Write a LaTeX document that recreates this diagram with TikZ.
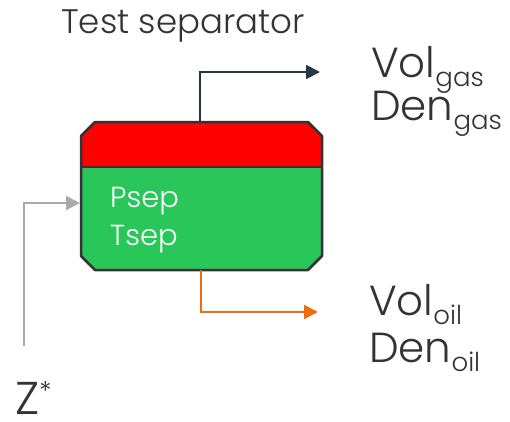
\documentclass[tikz,border=0pt]{standalone}
\usepackage{fontspec}
\setmainfont{Poppins}[UprightFont=* Light]
\usepackage{tikz}
\usetikzlibrary{arrows.meta}
\definecolor{ink}{HTML}{333333}
\definecolor{sepgreen}{HTML}{29C65A}
\definecolor{gasline}{HTML}{243746}
\definecolor{oilline}{HTML}{F26B0F}
\definecolor{feedline}{HTML}{AAAAAA}
% small lowered index after a quantity name
\newcommand{\lowidx}[1]{\raisebox{-9pt}{\fontsize{26}{26}\selectfont #1}}

\begin{document}
\begin{tikzpicture}[x=1pt,y=-1pt,
    pipe/.style={line width=2pt,-{Triangle[length=14pt,width=14pt]}},
    lbl/.style={inner sep=0pt,anchor=base west,text=ink},
    big/.style={lbl,font=\fontsize{42}{42}\selectfont}]
    \useasboundingbox (0,0) rectangle (510,421);
    % vessel: gas cap on top, liquid below
    \fill[red] (81,167) -- (81,136) -- (95,122) -- (308,122) -- (322,136) -- (322,167) -- cycle;
    \fill[sepgreen] (81,167) -- (81,256) -- (95,270) -- (308,270) -- (322,256) -- (322,167) -- cycle;
    \draw[ink,line width=2.5pt,line join=round] (95,122) -- (308,122) -- (322,136) -- (322,256) -- (308,270) -- (95,270) -- (81,256) -- (81,136) -- cycle;
    \draw[ink,line width=2.5pt] (81,167) -- (322,167);
    \coordinate (top) at (200,122);
    \coordinate (bottom) at (201,270);
    \coordinate (inlet) at (80,203);
    \coordinate (gasout) at (320,72);
    \coordinate (oilout) at (318,312);
    \coordinate (feed) at (24,346);
    % streams
    \draw[pipe,gasline] (top) |- (gasout);
    \draw[pipe,oilline] (bottom) |- (oilout);
    \draw[pipe,feedline] (feed) |- (inlet);
    % labels
    \node[lbl,font=\fontsize{34}{34}\selectfont] (title) at (61,33) {Test separator};
    \node[lbl,text=white,font=\fontsize{29}{29}\selectfont] (psep) at (110,207) {Psep};
    \node[lbl,text=white,font=\fontsize{29}{29}\selectfont] (tsep) at (110,245) {Tsep};
    \node[big] (volgas) at (371,77) {Vol\lowidx{gas}};
    \node[big] (dengas) at (371,120) {Den\lowidx{gas}};
    \node[big] (voloil) at (369,315) {Vol\lowidx{oil}};
    \node[big] (denoil) at (369,362) {Den\lowidx{oil}};
    \node[big,font=\fontsize{46}{46}\selectfont] (z) at (15,414) {Z\raisebox{14pt}{\fontsize{26}{26}\selectfont *}};
\end{tikzpicture}
\end{document}
